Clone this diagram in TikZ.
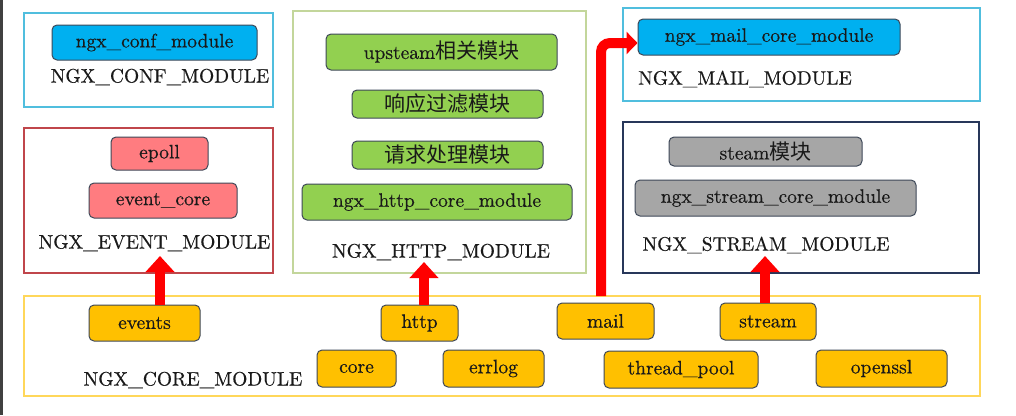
\documentclass[tikz,border=0pt]{standalone}
\usepackage{fontspec}
\newfontfamily\serf{lmroman10-regular.otf}[FakeBold=0.45]
\newfontfamily\cjk{Noto Sans CJK SC}
\usetikzlibrary{arrows.meta}
\definecolor{confb}{RGB}{80,190,222}
\definecolor{blfill}{RGB}{0,176,240}
\definecolor{ndb}{RGB}{62,72,88}
\definecolor{evb}{RGB}{192,70,75}
\definecolor{rdfill}{RGB}{255,124,128}
\definecolor{httpb}{RGB}{195,214,155}
\definecolor{grfill}{RGB}{146,208,80}
\definecolor{strb}{RGB}{40,55,90}
\definecolor{gyfill}{RGB}{166,166,166}
\definecolor{coreb}{RGB}{255,215,90}
\definecolor{yefill}{RGB}{255,192,0}
\definecolor{txt}{RGB}{25,25,25}
\definecolor{arr}{RGB}{255,0,0}
\tikzset{
  grp/.style={draw, line width=1.2pt},
  nd/.style={draw=ndb, line width=1pt, rounded corners=5pt, inner sep=0pt,
    text=txt, font=\serf\fontsize{19.5}{24}\selectfont},
  lbl/.style={text=txt, inner sep=0pt, font=\serf\fontsize{19.5}{24}\selectfont},
  bigarrow/.style={draw=arr, line width=10.5pt, -{Triangle[width=28pt,length=16pt]}},
  smallarrow/.style={draw=arr, line width=10pt, rounded corners=9pt, -{Triangle[width=22pt,length=11pt]}},
}
\newcommand{\nbox}[7]{% name, cx, cy, w, h, fill, text
  \node[nd, fill=#6, minimum width=#4pt, minimum height=#5pt] (#1) at (#2,#3) {#7};}
\begin{document}
\begin{tikzpicture}[x=1pt,y=-1pt]
\useasboundingbox (0,0) rectangle (1016,415);
\fill[white] (0,0) rectangle (1016,415);
\fill[black!75] (0,0) rectangle (2.5,415);
% group boxes
\draw[grp, draw=confb] (24,13) rectangle (273,107);
\draw[grp, draw=evb] (24,128) rectangle (273,273);
\draw[grp, draw=httpb] (293,11) rectangle (586,273);
\draw[grp, draw=confb] (623,8) rectangle (980,101);
\draw[grp, draw=strb] (623,122) rectangle (979,273);
\draw[grp, draw=coreb] (24,296) rectangle (980,396);
% nodes
\nbox{conf}{154.5}{42.5}{205}{35}{blfill}{ngx\_conf\_module}
\nbox{epoll}{159.5}{153.5}{97}{33}{rdfill}{epoll}
\nbox{evcore}{163}{200.5}{148}{35}{rdfill}{event\_core}
\nbox{ups}{441.5}{52}{231}{36}{grfill}{upsteam{\cjk\fontsize{21}{24}\selectfont 相关模块}}
\nbox{resp}{447.5}{104}{191}{28}{grfill}{{\cjk\fontsize{21}{24}\selectfont 响应过滤模块}}
\nbox{req}{447.5}{155}{191}{28}{grfill}{{\cjk\fontsize{21}{24}\selectfont 请求处理模块}}
\nbox{httpcore}{437}{202}{270}{36}{grfill}{ngx\_http\_core\_module}
\nbox{mailcore}{769}{37}{262}{36}{blfill}{ngx\_mail\_core\_module}
\nbox{steam}{765.5}{151.5}{193}{29}{gyfill}{steam{\cjk\fontsize{21}{24}\selectfont 模块}}
\nbox{strcore}{775.5}{198}{281}{36}{gyfill}{ngx\_stream\_core\_module}
\nbox{events}{144.5}{323}{111}{36}{yefill}{events}
\nbox{http}{419.5}{323}{77}{36}{yefill}{http}
\nbox{mail}{605.5}{321}{97}{36}{yefill}{mail}
\nbox{stream}{768}{321.5}{96}{37}{yefill}{stream}
\nbox{core}{356.5}{368.5}{79}{37}{yefill}{core}
\nbox{errlog}{493.5}{368.5}{101}{37}{yefill}{errlog}
\nbox{tpool}{681}{369.5}{154}{37}{yefill}{thread\_pool}
\nbox{openssl}{881.5}{368.5}{131}{37}{yefill}{openssl}
% labels
\node[lbl] (lconf) at (160,77) {NGX\_CONF\_MODULE};
\node[lbl] (levent) at (154.5,243) {NGX\_EVENT\_MODULE};
\node[lbl] (lhttp) at (441,252) {NGX\_HTTP\_MODULE};
\node[lbl] (lmail) at (745,79) {NGX\_MAIL\_MODULE};
\node[lbl] (lstream) at (766,245) {NGX\_STREAM\_MODULE};
\node[lbl] (lcore) at (193,380) {NGX\_CORE\_MODULE};
% arrows
\coordinate (evtip) at (160,256);
\coordinate (httptip) at (424,262);
\coordinate (sttip) at (765,256);
\coordinate (mailstart) at (601,296);
\draw[bigarrow] (evtip |- events.north) -- (evtip);
\draw[bigarrow] (httptip |- http.north) -- (httptip);
\draw[bigarrow] (sttip |- stream.north) -- (sttip);
\draw[smallarrow] (mailstart) -- (601,43) -- (mailcore.west |- 0,43);
\end{tikzpicture}
\end{document}
